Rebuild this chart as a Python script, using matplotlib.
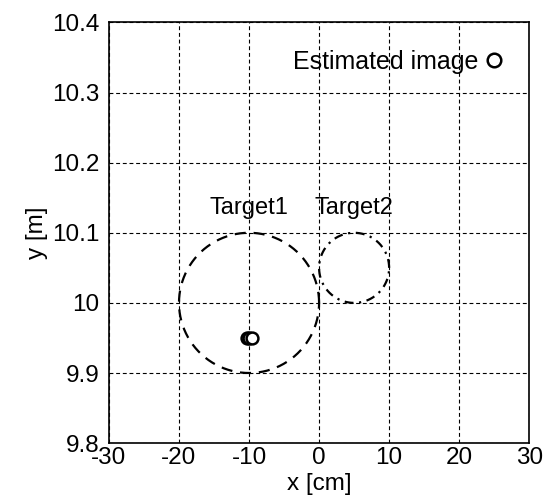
import numpy as np
import matplotlib
matplotlib.use('Agg')
import matplotlib.pyplot as plt

plt.rcParams['font.family'] = ['Liberation Sans', 'DejaVu Sans']
plt.rcParams['axes.unicode_minus'] = False

# targets: centre x [cm], centre y [m], radius x [cm], radius y [m]
target_names = ["Target1", "Target2"]
target_cx = [-10, 5]
target_cy = [10.0, 10.05]
target_rx = [10, 5]
target_ry = [0.1, 0.05]
label_x = [-10, 5]
label_y = [10.135, 10.135]
target_styles = [(0, (5, 3.5)), (0, (4, 2.5, 1, 2.5))]

# estimated image points
est_x = [-10.3, -10.0, -9.6]
est_y = [9.95, 9.95, 9.95]

x_ticks = [-30, -20, -10, 0, 10, 20, 30]
y_ticks = [9.8, 9.9, 10.0, 10.1, 10.2, 10.3, 10.4]
y_labels = ["9.8", "9.9", "10", "10.1", "10.2", "10.3", "10.4"]

fig = plt.figure(figsize=(5.53, 4.99), dpi=100)
ax = fig.add_axes([0.197, 0.112, 0.76, 0.843])

t = np.linspace(0, 2 * np.pi, 400)
for i in range(2):
    ax.plot(target_cx[i] + target_rx[i] * np.cos(t),
            target_cy[i] + target_ry[i] * np.sin(t),
            color='k', lw=1.6, linestyle=target_styles[i])
    ax.text(label_x[i], label_y[i], target_names[i],
            ha='center', va='center', fontsize=17)

ax.plot(est_x, est_y, 'o', mfc='white', mec='k', mew=1.8, ms=8.5,
        linestyle='none', label='Estimated image')

ax.set_xlim(-30, 30)
ax.set_ylim(9.8, 10.4)
ax.set_xticks(x_ticks)
ax.set_yticks(y_ticks)
ax.set_yticklabels(y_labels)
ax.tick_params(direction='in', length=0, labelsize=17.5)
ax.tick_params(axis='y', pad=7)
ax.tick_params(axis='x', pad=3)
ax.grid(True, color='k', lw=0.8, linestyle=(0, (3.5, 2.5)))
for s in ax.spines.values():
    s.set_linewidth(1.2)

ax.set_xlabel('x [cm]', fontsize=17.5, labelpad=3)
ax.set_ylabel('y [m]', fontsize=17.5, labelpad=3)

ax.legend(loc='upper right', frameon=False, markerfirst=False, fontsize=18,
          handlelength=0.6, handletextpad=0.35, borderaxespad=0.7,
          markerscale=1.15)

fig.savefig('out.png', dpi=100)
